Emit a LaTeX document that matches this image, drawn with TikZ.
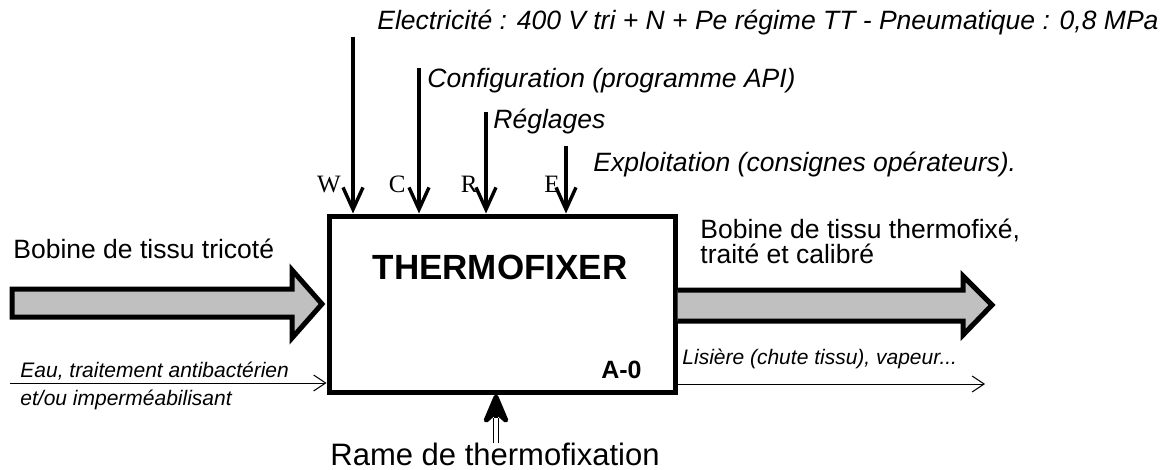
\documentclass[tikz,border=0pt]{standalone}
\usepackage{fontspec}
\setmainfont{Liberation Sans}
\newfontfamily\letterfont{Liberation Serif}
\usetikzlibrary{arrows.meta}
\definecolor{flowgray}{RGB}{192,192,192}

\begin{document}
\begin{tikzpicture}[x=0.5pt, y=-0.5pt,
  ctrl/.style={line width=1.7pt, -{Straight Barb[length=11pt,width=10pt]}},
  flowline/.style={line width=0.5pt, -{Straight Barb[length=6pt,width=8pt]}},
  bigarrow/.style={fill=flowgray, draw=black, line width=2.5pt, line join=miter},
  ctrltxt/.style={inner sep=0pt, anchor=base west, font=\fontsize{13.25}{13}\selectfont\itshape},
  flowtxt/.style={inner sep=0pt, anchor=base west, font=\fontsize{10.5}{12}\selectfont\itshape},
  letter/.style={inner sep=0pt, anchor=base east, font=\fontsize{12.5}{14}\selectfont\letterfont}]
\useasboundingbox (0,0) rectangle (1165,470);

\node[draw, line width=2.5pt, minimum width=173pt, minimum height=88pt, inner sep=0pt] (box) at (502,304) {};
\node[inner sep=0pt, anchor=base, font=\fontsize{17.5}{20}\selectfont\bfseries] (title) at (500,279) {THERMOFIXER};
\node[inner sep=0pt, anchor=base east, font=\fontsize{12.5}{14}\selectfont\bfseries] (code) at (642,378) {A-0};

% controles
\coordinate (wtop) at (353,37);
\coordinate (ctop) at (419,68);
\coordinate (rtop) at (486,112);
\coordinate (etop) at (566,146);
\draw[ctrl] (wtop) -- (wtop |- box.north);
\draw[ctrl] (ctop) -- (ctop |- box.north);
\draw[ctrl] (rtop) -- (rtop |- box.north);
\draw[ctrl] (etop) -- (etop |- box.north);
\node[letter] (w) at (341,192) {W};
\node[letter] (c) at (406,192) {C};
\node[letter] (r) at (478,192) {R};
\node[letter] (e) at (560,192) {E};
\node[ctrltxt] (elec) at (377,30) {Electricité : 400 V tri + N + Pe régime TT - Pneumatique : 0,8 MPa};
\node[ctrltxt] (conf) at (427,88) {Configuration (programme API)};
\node[ctrltxt] (regl) at (493,129) {Réglages};
\node[ctrltxt] (expl) at (593,172) {Exploitation (consignes opérateurs).};

% matiere d'oeuvre
\draw[bigarrow] (12,289) -- (292,289) -- (292,270) -- (322,304) -- (292,338) -- (292,317) -- (12,317) -- cycle;
\draw[bigarrow] (box.east |- 0,290) -- (963,290) -- (963,276) -- (992,305) -- (963,335) -- (963,321) -- (box.east |- 0,321);
\node[ctrltxt, font=\fontsize{13.25}{13}\selectfont] (mein) at (13,258) {Bobine de tissu tricoté};
\node[ctrltxt, font=\fontsize{13.25}{12.5}\selectfont, align=left] (meout) at (700,263) {Bobine de tissu thermofixé,\\traité et calibré};

% flux secondaires
\coordinate (eaustart) at (10,383);
\coordinate (lisend) at (985,384);
\draw[flowline] (eaustart) -- (eaustart -| box.west);
\draw[flowline] (lisend -| box.east) -- (lisend);
\node[flowtxt] (eau) at (20,377) {Eau, traitement antibactérien};
\node[flowtxt] (etou) at (20,405) {et/ou imperméabilisant};
\node[flowtxt] (lis) at (682,364) {Lisière (chute tissu), vapeur...};

% support
\coordinate (rametop) at (496,443);
\coordinate (ramehead) at (496,418);
\draw[double, double distance=1.8pt, line width=0.6pt] (rametop) -- (ramehead);
\draw[line width=2.4pt, -{Stealth[round,length=19pt,width=16pt,inset=7pt]}] (ramehead) -- (ramehead |- box.south);
\node[inner sep=0pt, anchor=base, font=\fontsize{15.5}{18}\selectfont] (rame) at (495,465) {Rame de thermofixation};
\end{tikzpicture}
\end{document}
